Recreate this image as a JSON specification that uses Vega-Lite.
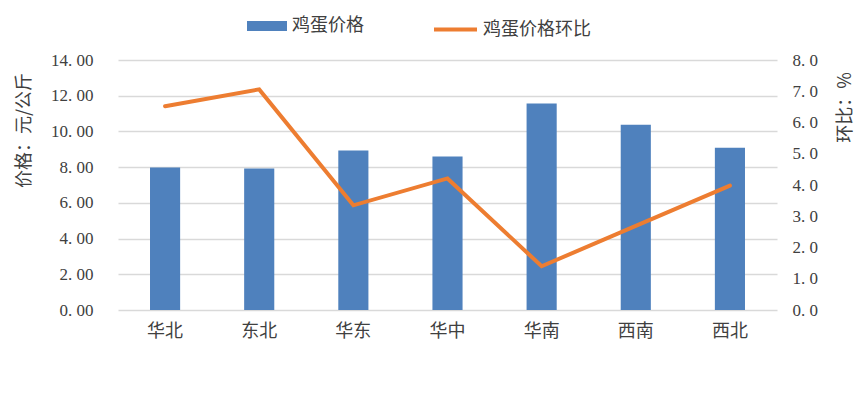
{
  "$schema": "https://vega.github.io/schema/vega-lite/v6.json",
  "width": 659,
  "height": 250,
  "autosize": {"type": "none"},
  "padding": {"left": 118, "top": 60, "right": 91, "bottom": 83},
  "background": "white",
  "config": {
    "view": {"stroke": null},
    "font": "Noto Sans CJK SC"
  },
  "data": {
    "values": [
      {"region": "华北", "price": 7.98, "mom": 6.52},
      {"region": "东北", "price": 7.93, "mom": 7.06},
      {"region": "华东", "price": 8.93, "mom": 3.35},
      {"region": "华中", "price": 8.6, "mom": 4.21},
      {"region": "华南", "price": 11.56, "mom": 1.4},
      {"region": "西南", "price": 10.38, "mom": 2.69},
      {"region": "西北", "price": 9.09, "mom": 3.98}
    ]
  },
  "encoding": {
    "x": {
      "field": "region",
      "type": "nominal",
      "sort": null,
      "scale": {"paddingInner": 0.68, "paddingOuter": 0.34},
      "axis": {
        "title": null,
        "labelAngle": 0,
        "domain": false,
        "ticks": false,
        "labelPadding": 12,
        "labelFontSize": 18,
        "labelColor": "#404040",
        "labelFont": "Noto Sans CJK SC"
      }
    }
  },
  "layer": [
    {
      "mark": {"type": "bar"},
      "encoding": {
        "y": {
          "field": "price",
          "type": "quantitative",
          "scale": {"domain": [0, 14], "nice": false},
          "axis": {
            "values": [0, 2, 4, 6, 8, 10, 12, 14],
            "labelExpr": "replace(format(datum.value, '.2f'), '.', '. ')",
            "domain": false,
            "ticks": false,
            "grid": true,
            "gridColor": "#d9d9d9",
            "gridWidth": 1.5,
            "labelPadding": 25,
            "labelFontSize": 17,
            "labelFont": "Liberation Serif",
            "labelColor": "#404040",
            "title": "价格：元/公斤",
            "titleFont": "Noto Sans CJK SC",
            "titleFontSize": 18,
            "titleFontWeight": "normal",
            "titleColor": "#404040",
            "titleAngle": -90,
            "titleAlign": "center",
            "titleBaseline": "middle",
            "titleX": -94,
            "titleY": 70
          }
        },
        "fill": {
          "datum": "鸡蛋价格",
          "type": "nominal",
          "scale": {"range": ["#4F81BD"]},
          "legend": {
            "title": null,
            "orient": "none",
            "legendX": 129,
            "legendY": -54,
            "symbolType": "M-1,-0.25H1V0.25H-1Z",
            "symbolSize": 1600,
            "symbolStrokeWidth": 0,
            "labelFontSize": 18,
            "labelFont": "Noto Sans CJK SC",
            "labelColor": "#404040",
            "labelOffset": 5
          }
        }
      }
    },
    {
      "mark": {"type": "line", "strokeWidth": 4, "strokeCap": "round", "strokeJoin": "miter"},
      "encoding": {
        "y": {
          "field": "mom",
          "type": "quantitative",
          "scale": {"domain": [0, 8], "nice": false},
          "axis": {
            "orient": "right",
            "values": [0, 1, 2, 3, 4, 5, 6, 7, 8],
            "labelExpr": "replace(format(datum.value, '.1f'), '.', '. ')",
            "domain": false,
            "ticks": false,
            "grid": false,
            "labelPadding": 15,
            "labelFontSize": 17,
            "labelFont": "Liberation Serif",
            "labelColor": "#404040",
            "title": "环比：%",
            "titleFont": "Noto Sans CJK SC",
            "titleFontSize": 18,
            "titleFontWeight": "normal",
            "titleColor": "#404040",
            "titleAngle": -90,
            "titleAlign": "center",
            "titleBaseline": "middle",
            "titleX": 68,
            "titleY": 47
          }
        },
        "stroke": {
          "datum": "鸡蛋价格环比",
          "type": "nominal",
          "scale": {"range": ["#ED7D31"]},
          "legend": {
            "title": null,
            "orient": "none",
            "legendX": 314,
            "legendY": -54,
            "symbolType": "stroke",
            "symbolSize": 1849,
            "symbolStrokeWidth": 4,
            "labelFontSize": 18,
            "labelFont": "Noto Sans CJK SC",
            "labelColor": "#404040",
            "labelOffset": 4
          }
        }
      }
    }
  ],
  "resolve": {"scale": {"y": "independent", "fill": "independent", "stroke": "independent"}}
}
